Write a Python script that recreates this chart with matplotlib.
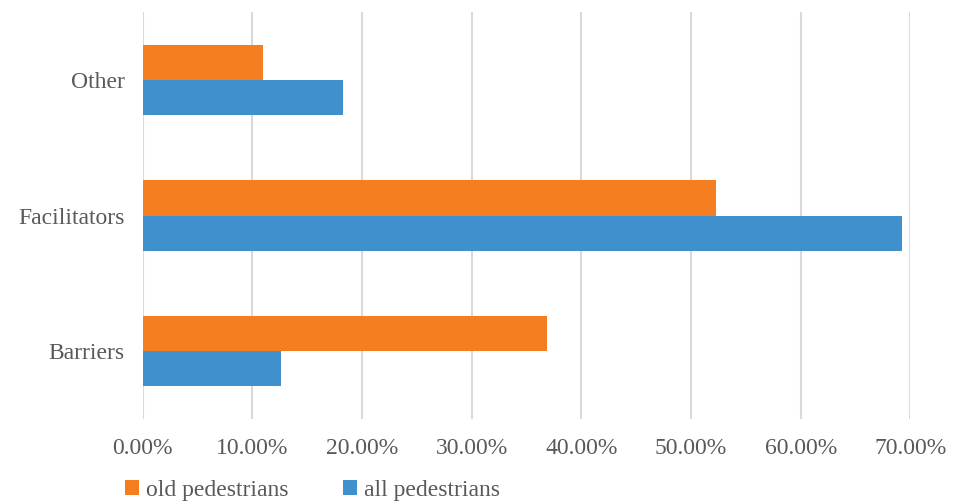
import matplotlib
matplotlib.use('Agg')
import matplotlib.pyplot as plt
import numpy as np

categories = ['Barriers', 'Facilitators', 'Other']
old_ped = [0.369, 0.523, 0.110]
all_ped = [0.126, 0.692, 0.183]
ticks = [0.0, 0.1, 0.2, 0.3, 0.4, 0.5, 0.6, 0.7]

plt.rcParams['font.family'] = ['Liberation Serif', 'DejaVu Serif']

fig = plt.figure(figsize=(9.54, 5.04), dpi=100)
ax = fig.add_axes([0.1494, 0.1696, 0.8050, 0.8056])

y = np.arange(len(categories))
h = 0.26
ax.barh(y + h / 2, old_ped, height=h, color='#F47E20', label='old pedestrians', zorder=3)
ax.barh(y - h / 2, all_ped, height=h, color='#4190CE', label='all pedestrians', zorder=3)

ax.set_xlim(0, 0.70)
ax.set_ylim(-0.5, 2.5)
ax.set_xticks(ticks)
ax.set_xticklabels(['{:.2f}%'.format(t * 100) for t in ticks])
ax.set_yticks(y)
ax.set_yticklabels(categories)
ax.tick_params(axis='both', length=0, labelsize=17, colors='#595959')
ax.tick_params(axis='x', pad=14)
ax.tick_params(axis='y', pad=13)

ax.grid(axis='x', color='#d9d9d9', linewidth=1.5, zorder=0)
for s in ax.spines.values():
    s.set_visible(False)

leg = ax.legend(loc='center', bbox_to_anchor=(0.221, -0.178), ncol=2, frameon=False,
                fontsize=17, handlelength=0.6, handleheight=0.6, handletextpad=0.3,
                columnspacing=2.3, borderpad=0)
for t in leg.get_texts():
    t.set_color('#595959')

plt.savefig('out.png', dpi=100)
